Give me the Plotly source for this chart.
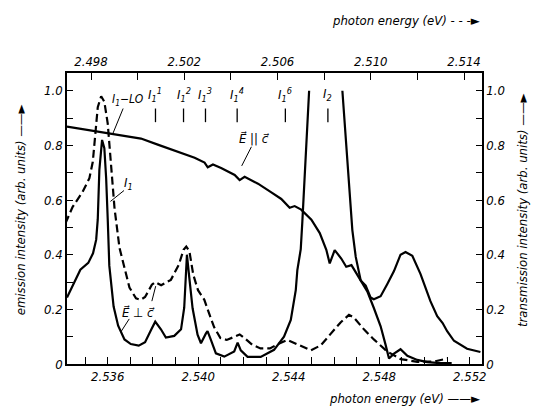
import plotly.graph_objects as go

# ---------------- data ----------------
# solid emission curve (left axis); None marks the clipped top of the I2 line
par_energy = [2.5342, 2.53451, 2.53479, 2.53514, 2.53535, 2.53549, 2.53556, 2.53563, 2.53571,
              2.53575, 2.53585, 2.53593, 2.536, 2.53607, 2.53626, 2.53646, 2.53674, 2.53702,
              2.53737, 2.53765, 2.53793, 2.5381, 2.53835, 2.53857, 2.53894, 2.53924, 2.53938,
              2.53946, 2.5395, 2.5396, 2.53975, 2.53997, 2.54012, 2.54034, 2.54041, 2.54056,
              2.54078, 2.54115, 2.54159, 2.54174, 2.54188, 2.54218, 2.54276, 2.54335, 2.54379,
              2.54409, 2.54431, 2.54438, 2.54453, 2.5446, 2.54472, 2.5449, None, 2.54637,
              2.54656, 2.54666, 2.54681, 2.54696, 2.54718, 2.5474, 2.54762, 2.54776, 2.54806,
              2.54835, 2.54865, 2.54894, 2.54916, 2.54946, 2.54982, 2.55026, 2.55056, 2.5508,
              2.551, 2.5513, 2.55188, 2.55247]
par_intensity = [0.243, 0.297, 0.345, 0.37, 0.405, 0.455, 0.53, 0.71, 0.81,
                 0.82, 0.79, 0.68, 0.53, 0.36, 0.21, 0.14, 0.09, 0.073,
                 0.067, 0.08, 0.127, 0.155, 0.127, 0.097, 0.103, 0.127, 0.206,
                 0.35, 0.40, 0.32, 0.204, 0.107, 0.076, 0.112, 0.12, 0.088,
                 0.039, 0.027, 0.046, 0.078, 0.05, 0.026, 0.026, 0.052, 0.1,
                 0.161, 0.27, 0.344, 0.42, 0.52, 0.706, 1.0, None, 1.0,
                 0.787, 0.64, 0.49, 0.392, 0.306, 0.287, 0.243, 0.237, 0.248,
                 0.292, 0.34, 0.40, 0.41, 0.396, 0.33, 0.23, 0.175, 0.15,
                 0.12, 0.085, 0.056, 0.044]

# dashed emission curve (left axis)
perp_energy = [2.53413, 2.53445, 2.53489, 2.53519, 2.53534, 2.53546, 2.53556, 2.53571, 2.53585,
               2.536, 2.53615, 2.5363, 2.53652, 2.53674, 2.53696, 2.53725, 2.53745, 2.53765,
               2.53795, 2.5381, 2.53836, 2.53879, 2.53914, 2.53935, 2.53947, 2.53961, 2.53978,
               2.53999, 2.54027, 2.54048, 2.5407, 2.54098, 2.54126, 2.54161, 2.54183, 2.54211,
               2.54239, 2.54275, 2.54317, 2.5435, 2.54395, 2.54446, 2.54497, 2.54541, 2.54585,
               2.54629, 2.54666, 2.54688, 2.54732, 2.54776, 2.54835, 2.54894, 2.54968, 2.55041,
               2.551]
perp_intensity = [0.515, 0.575, 0.63, 0.68, 0.74, 0.84, 0.94, 0.98, 0.96,
                  0.88, 0.72, 0.57, 0.425, 0.35, 0.28, 0.24, 0.235, 0.245,
                  0.29, 0.30, 0.288, 0.308, 0.363, 0.418, 0.43, 0.412, 0.327,
                  0.27, 0.235, 0.185, 0.135, 0.095, 0.088, 0.1, 0.108, 0.09,
                  0.07, 0.057, 0.057, 0.072, 0.088, 0.069, 0.05, 0.068, 0.11,
                  0.152, 0.18, 0.17, 0.127, 0.09, 0.046, 0.018, 0.008, 0.009,
                  0.02]

# transmission curve (right axis)
trans_energy = [2.5342, 2.536, 2.53747, 2.53821, 2.53924, 2.53946, 2.53984, 2.54028, 2.54042,
                2.54065, 2.54101, 2.54161, 2.54183, 2.54205, 2.54264, 2.54323, 2.54367, 2.54404,
                2.54426, 2.54455, 2.545, 2.54537, 2.54566, 2.54581, 2.54603, 2.54632, 2.54654,
                2.54677, 2.54706, 2.54747, 2.54776, 2.54806, 2.54828, 2.54843, 2.54865, 2.54894,
                2.54924, 2.54968, 2.55012, 2.5507, 2.5512]
trans_value = [0.869, 0.846, 0.825, 0.803, 0.772, 0.764, 0.755, 0.737, 0.72,
               0.73, 0.717, 0.692, 0.673, 0.685, 0.66, 0.628, 0.604, 0.572,
               0.578, 0.565, 0.528, 0.479, 0.418, 0.368, 0.417, 0.386, 0.356,
               0.362, 0.32, 0.266, 0.205, 0.138, 0.07, 0.02, 0.038, 0.054,
               0.03, 0.015, 0.007, 0.003, 0.003]

bottom_ticks = [2.536, 2.540, 2.544, 2.548, 2.552]
top_ticks = [2.498, 2.502, 2.506, 2.510, 2.514]
y_ticks = [0, 0.2, 0.4, 0.6, 0.8, 1.0]
y_ticklabels = ["0", "0.2", "0.4", "0.6", "0.8", "1.0"]

line_labels = ["I<sub>1</sub><sup>1</sup>", "I<sub>1</sub><sup>2</sup>", "I<sub>1</sub><sup>3</sup>",
               "I<sub>1</sub><sup>4</sup>", "I<sub>1</sub><sup>6</sup>", "I<sub>2</sub>"]
line_energies = [2.53811, 2.53935, 2.54032, 2.54172, 2.54385, 2.54573]

# ---------------- figure ----------------
FONT = "DejaVu Sans Condensed, Liberation Sans Narrow, Liberation Sans, sans-serif"
tick_font = dict(family=FONT, size=13, color="black", style="italic")

fig = go.Figure()
fig.add_trace(go.Scatter(x=par_energy, y=par_intensity, mode="lines",
                         line=dict(color="black", width=2.2), connectgaps=False,
                         showlegend=False, hoverinfo="skip"))
fig.add_trace(go.Scatter(x=perp_energy, y=perp_intensity, mode="lines",
                         line=dict(color="black", width=2.2, dash="8px,4px"),
                         showlegend=False, hoverinfo="skip"))
fig.add_trace(go.Scatter(x=trans_energy, y=trans_value, mode="lines", yaxis="y2",
                         line=dict(color="black", width=2.2),
                         showlegend=False, hoverinfo="skip"))
# carrier trace for the top energy axis
fig.add_trace(go.Scatter(x=top_ticks, y=[None] * len(top_ticks), xaxis="x2", mode="lines",
                         showlegend=False, hoverinfo="skip"))

axis_common = dict(showline=True, linecolor="black", linewidth=1.5, showgrid=False,
                   zeroline=False, ticks="inside", tickcolor="black", tickwidth=1.3,
                   tickfont=tick_font)

fig.update_layout(
    width=545, height=407,
    margin=dict(l=59, r=71, t=65, b=51),
    paper_bgcolor="white", plot_bgcolor="white",
    xaxis=dict(range=[2.5342, 2.55254], tickvals=bottom_ticks,
               ticktext=[f"{v:.3f}" for v in bottom_ticks], ticklen=7,
               minor=dict(dtick=0.001, tick0=2.536, ticks="inside", ticklen=7,
                          tickcolor="black", tickwidth=1.3),
               **axis_common),
    xaxis2=dict(range=[2.49697, 2.51477], overlaying="x", side="top", anchor="y",
                tickvals=top_ticks, ticktext=[f"{v:.3f}" for v in top_ticks], ticklen=7,
                minor=dict(dtick=0.002, tick0=2.498, ticks="inside", ticklen=7,
                           tickcolor="black", tickwidth=1.3),
                **axis_common),
    yaxis=dict(range=[0, 1.065], tickvals=y_ticks, ticktext=y_ticklabels, ticklen=6,
               minor=dict(dtick=0.1, tick0=0, ticks="inside", ticklen=6,
                          tickcolor="black", tickwidth=1.3),
               **axis_common),
    yaxis2=dict(range=[0, 1.065], overlaying="y", side="right", anchor="x",
                tickvals=y_ticks, ticktext=y_ticklabels, ticklen=6,
                minor=dict(dtick=0.1, tick0=0, ticks="inside", ticklen=6,
                           tickcolor="black", tickwidth=1.3),
                **axis_common),
)

lab_font = dict(family=FONT, size=13, color="black", style="italic")
mark_font = dict(family=FONT, size=13, color="black", style="italic")
lo_font = dict(family=FONT, size=12, color="black", style="italic")
ann = []
# axis titles
ann.append(dict(text="emission intensity (arb. units) ——►", xref="paper", yref="paper",
                x=-0.135, y=0.53, textangle=-90, showarrow=False, font=lab_font))
ann.append(dict(text="transmission intensity (arb. units) ——►", xref="paper", yref="paper",
                x=1.12, y=0.53, textangle=-90, showarrow=False, font=lab_font))
ann.append(dict(text="photon energy (eV) ——►", xref="paper", yref="paper",
                x=1.0, xanchor="right", y=-0.12, yanchor="middle", showarrow=False, font=lab_font))
ann.append(dict(text="photon energy (eV) - - -►", xref="paper", yref="paper",
                x=1.0, xanchor="right", y=1.18, yanchor="middle", showarrow=False, font=lab_font))

# line markers at the top
for lab, e in zip(line_labels, line_energies):
    ann.append(dict(text=lab, x=e, y=0.985, xref="x", yref="y", showarrow=False, font=mark_font))
    fig.add_shape(type="line", x0=e, x1=e, y0=0.885, y1=0.935, xref="x", yref="y",
                  line=dict(color="black", width=1.3))

# curve labels with leader lines
ann.append(dict(text="I<sub>1</sub>−LO", x=2.53612, xanchor="left", y=0.965, xref="x", yref="y",
                showarrow=False, font=lo_font))
fig.add_shape(type="line", x0=2.53668, y0=0.935, x1=2.53622, y1=0.842, xref="x", yref="y",
              line=dict(color="black", width=1))
ann.append(dict(text="I<sub>1</sub>", x=2.53692, y=0.66, xref="x", yref="y", showarrow=False,
                font=mark_font))
fig.add_shape(type="line", x0=2.53672, y0=0.635, x1=2.53612, y1=0.595, xref="x", yref="y",
              line=dict(color="black", width=1))
ann.append(dict(text="E⃗ || c⃗", x=2.54245, y=0.825, xref="x", yref="y", showarrow=False,
                font=mark_font))
fig.add_shape(type="line", x0=2.54235, y0=0.795, x1=2.54192, y1=0.725, xref="x", yref="y",
              line=dict(color="black", width=1))
ann.append(dict(text="E⃗ ⊥ c⃗", x=2.53738, y=0.19, xref="x", yref="y", showarrow=False,
                font=mark_font))
fig.add_shape(type="line", x0=2.53695, y0=0.165, x1=2.5366, y1=0.12, xref="x", yref="y",
              line=dict(color="black", width=1))
fig.add_shape(type="line", x0=2.53795, y0=0.23, x1=2.53812, y1=0.285, xref="x", yref="y",
              line=dict(color="black", width=1))

fig.update_layout(annotations=ann)
fig.write_html("out.html")
